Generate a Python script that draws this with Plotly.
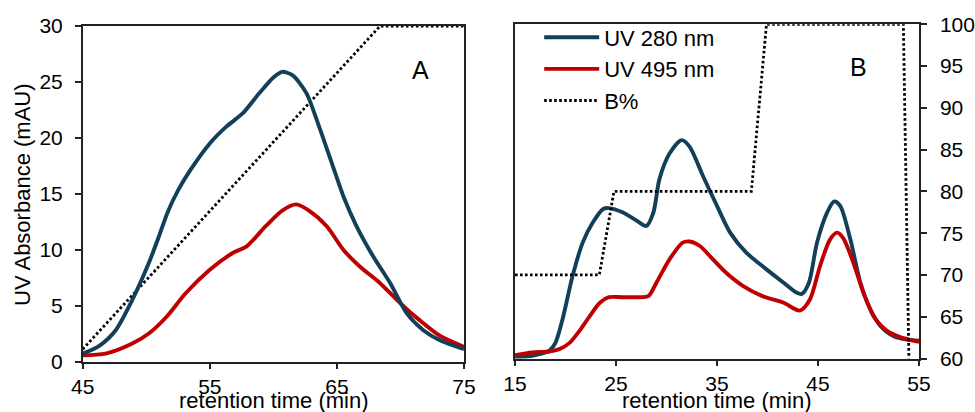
import plotly.graph_objects as go

# ---------- Panel A data ----------
a_x_280 = [45, 46.3, 47.6, 48.9, 50.2, 51.0, 51.7, 52.5, 53.4, 55, 56.3, 57.6, 58.9, 60.0, 60.7, 61.5,
           62.6, 63.6, 64.7, 65.5, 66.5, 67.8, 69.2, 70.5, 71.8, 73.1, 75]
a_y_280 = [0.7, 1.4, 2.8, 5.5, 8.8, 11.2, 13.4, 15.3, 17.0, 19.5, 21.0, 22.2, 24.0, 25.4, 25.9, 25.6,
           24.0, 21.0, 17.4, 14.8, 12.2, 9.5, 7.0, 4.3, 2.8, 1.9, 1.1]
a_x_495 = [45, 46.8, 48.9, 50.2, 51.6, 53.1, 55, 56.8, 57.9, 59.4, 60.7, 61.8, 62.8, 64.2, 65.5,
           66.8, 68.4, 70, 71.5, 73.1, 75]
a_y_495 = [0.55, 0.7, 1.6, 2.5, 4.0, 6.1, 8.2, 9.7, 10.3, 12.1, 13.5, 14.05, 13.5, 12.1, 10.0,
           8.5, 7.0, 5.2, 3.7, 2.3, 1.3]
a_x_b = [45, 68.4, 75]
a_y_b = [1.1, 30, 30]

# ---------- Panel B data ----------
b_x_280 = [15, 16.7, 18.4, 19.0, 19.7, 20.7, 21.7, 22.7, 23.7, 24.3, 25.7, 27, 28, 28.7, 29.3,
           30.3, 31.5, 32.3, 33.6, 35, 36.3, 37.9, 39.9, 41.6, 42.9, 43.4, 44.1, 44.9, 45.9,
           46.6, 47.2, 48.2, 49.2, 50.2, 51.2, 52.5, 53.8, 55]
b_y_280 = [0.1, 0.25, 0.7, 1.4, 3.5, 7.4, 10.4, 12.2, 13.4, 13.5, 13.1, 12.4, 11.9, 13.1, 16.1,
           18.4, 19.6, 19.0, 16.4, 13.7, 11.3, 9.5, 8.0, 6.8, 5.9, 5.8, 6.8, 10.4, 13.1,
           14.1, 13.7, 10.7, 6.8, 4.4, 2.9, 2.0, 1.7, 1.6]
b_x_495 = [15, 16.7, 18.4, 19.4, 20.4, 21.4, 22.4, 23.4, 24.3, 25.7, 27, 28.2, 29, 30.3, 31.6,
           32.3, 33.3, 34.6, 35.9, 37.6, 39.5, 41.6, 43.2, 44.2, 45.2, 46.2, 46.9, 47.5, 48.5,
           49.5, 50.5, 51.8, 53.2, 55]
b_y_495 = [0.3, 0.54, 0.63, 0.84, 1.4, 2.5, 3.8, 5.0, 5.5, 5.5, 5.5, 5.6, 6.8, 8.9, 10.4,
           10.5, 10.1, 8.9, 7.7, 6.5, 5.6, 5.0, 4.3, 5.3, 8.3, 10.7, 11.3, 10.8, 8.6,
           5.9, 3.8, 2.5, 1.9, 1.5]
b_x_b = [15, 23.35, 24.8, 38.4, 39.9, 53.45, 54.0]
b_y_b = [70, 70, 80, 80, 100, 100, 60]

names = ["UV 280 nm", "UV 495 nm", "B%"]
x_ticks_a = [45, 55, 65, 75]
x_ticks_b = [15, 25, 35, 45, 55]

BLUE = "#123F59"
RED = "#C00000"
FONT = "Liberation Sans, Arial, sans-serif"
DOT = "2.6px,2.4px"
LW = 3.9
DW = 2.8

fig = go.Figure()
# Panel A
fig.add_trace(go.Scatter(x=a_x_b, y=a_y_b, mode="lines", xaxis="x", yaxis="y",
                         line=dict(color="black", width=DW, dash=DOT), showlegend=False))
fig.add_trace(go.Scatter(x=a_x_495, y=a_y_495, mode="lines", xaxis="x", yaxis="y",
                         line=dict(color=RED, width=LW, shape="spline", smoothing=0.75),
                         showlegend=False))
fig.add_trace(go.Scatter(x=a_x_280, y=a_y_280, mode="lines", xaxis="x", yaxis="y",
                         line=dict(color=BLUE, width=LW, shape="spline", smoothing=0.75),
                         showlegend=False))
# Panel B
fig.add_trace(go.Scatter(x=b_x_280, y=b_y_280, mode="lines", xaxis="x2", yaxis="y2",
                         name=names[0],
                         line=dict(color=BLUE, width=LW, shape="spline", smoothing=0.8)))
fig.add_trace(go.Scatter(x=b_x_495, y=b_y_495, mode="lines", xaxis="x2", yaxis="y2",
                         name=names[1],
                         line=dict(color=RED, width=LW, shape="spline", smoothing=0.8)))
fig.add_trace(go.Scatter(x=b_x_b, y=b_y_b, mode="lines", xaxis="x2", yaxis="y3",
                         name=names[2],
                         line=dict(color="black", width=DW, dash=DOT)))

axis_common = dict(showgrid=False, zeroline=False, showline=True, linecolor="#222",
                   linewidth=1.5, ticks="outside", ticklen=6, tickwidth=1.5, tickcolor="#222",
                   automargin=False,
                   tickfont=dict(family=FONT, size=21, color="black"))

dA = [82.7 / 975, 464 / 975]
dAy = [1 - 361.5 / 412, 1 - 26 / 412]
dB = [515 / 975, 919 / 975]
dBy = [1 - 358.5 / 412, 1 - 24.3 / 412]

fig.update_layout(
    width=975, height=412,
    margin=dict(l=0, r=0, t=0, b=0, autoexpand=False),
    paper_bgcolor="white", plot_bgcolor="white",
    font=dict(family=FONT, color="black"),
    xaxis=dict(domain=dA, range=[45, 75], tickvals=x_ticks_a, mirror=True,
               anchor="y", ticklabelstandoff=0, **axis_common),
    yaxis=dict(domain=dAy, range=[0, 30], dtick=5, mirror=True, anchor="x",
               ticklabelstandoff=8, **axis_common),
    xaxis2=dict(domain=dB, range=[15, 55], tickvals=x_ticks_b, mirror=True,
                anchor="y2", ticklabelstandoff=0, **axis_common),
    yaxis2=dict(domain=dBy, range=[0, 30], anchor="x2", showgrid=False, zeroline=False,
                showline=True, linecolor="#222", linewidth=1.5, ticks="",
                showticklabels=False, automargin=False),
    yaxis3=dict(domain=dBy, range=[60, 100], dtick=5, overlaying="y2", side="right",
                anchor="x2", ticklabelstandoff=9, **axis_common),
    legend=dict(x=0.553, y=0.96, xanchor="left", yanchor="top",
                font=dict(family=FONT, size=22, color="black"),
                bgcolor="rgba(0,0,0,0)", itemwidth=55, tracegroupgap=0),
    showlegend=True,
    annotations=[
        dict(text="retention time (min)", x=274 / 975, y=1 - 400 / 412, xref="paper",
             yref="paper", showarrow=False, xanchor="center", yanchor="middle",
             font=dict(family=FONT, size=22, color="black")),
        dict(text="retention time (min)", x=717 / 975, y=1 - 400 / 412, xref="paper",
             yref="paper", showarrow=False, xanchor="center", yanchor="middle",
             font=dict(family=FONT, size=22, color="black")),
        dict(text="UV Absorbance (mAU)", x=22 / 975, y=1 - 195 / 412, xref="paper",
             yref="paper", showarrow=False, xanchor="center", yanchor="middle",
             textangle=-90, font=dict(family=FONT, size=22, color="black")),
        dict(text="A", x=420 / 975, y=1 - 70 / 412, xref="paper", yref="paper",
             showarrow=False, xanchor="center", yanchor="middle",
             font=dict(family=FONT, size=25, color="black")),
        dict(text="B", x=858 / 975, y=1 - 67 / 412, xref="paper", yref="paper",
             showarrow=False, xanchor="center", yanchor="middle",
             font=dict(family=FONT, size=25, color="black")),
    ],
)

fig.write_html("out.html")
